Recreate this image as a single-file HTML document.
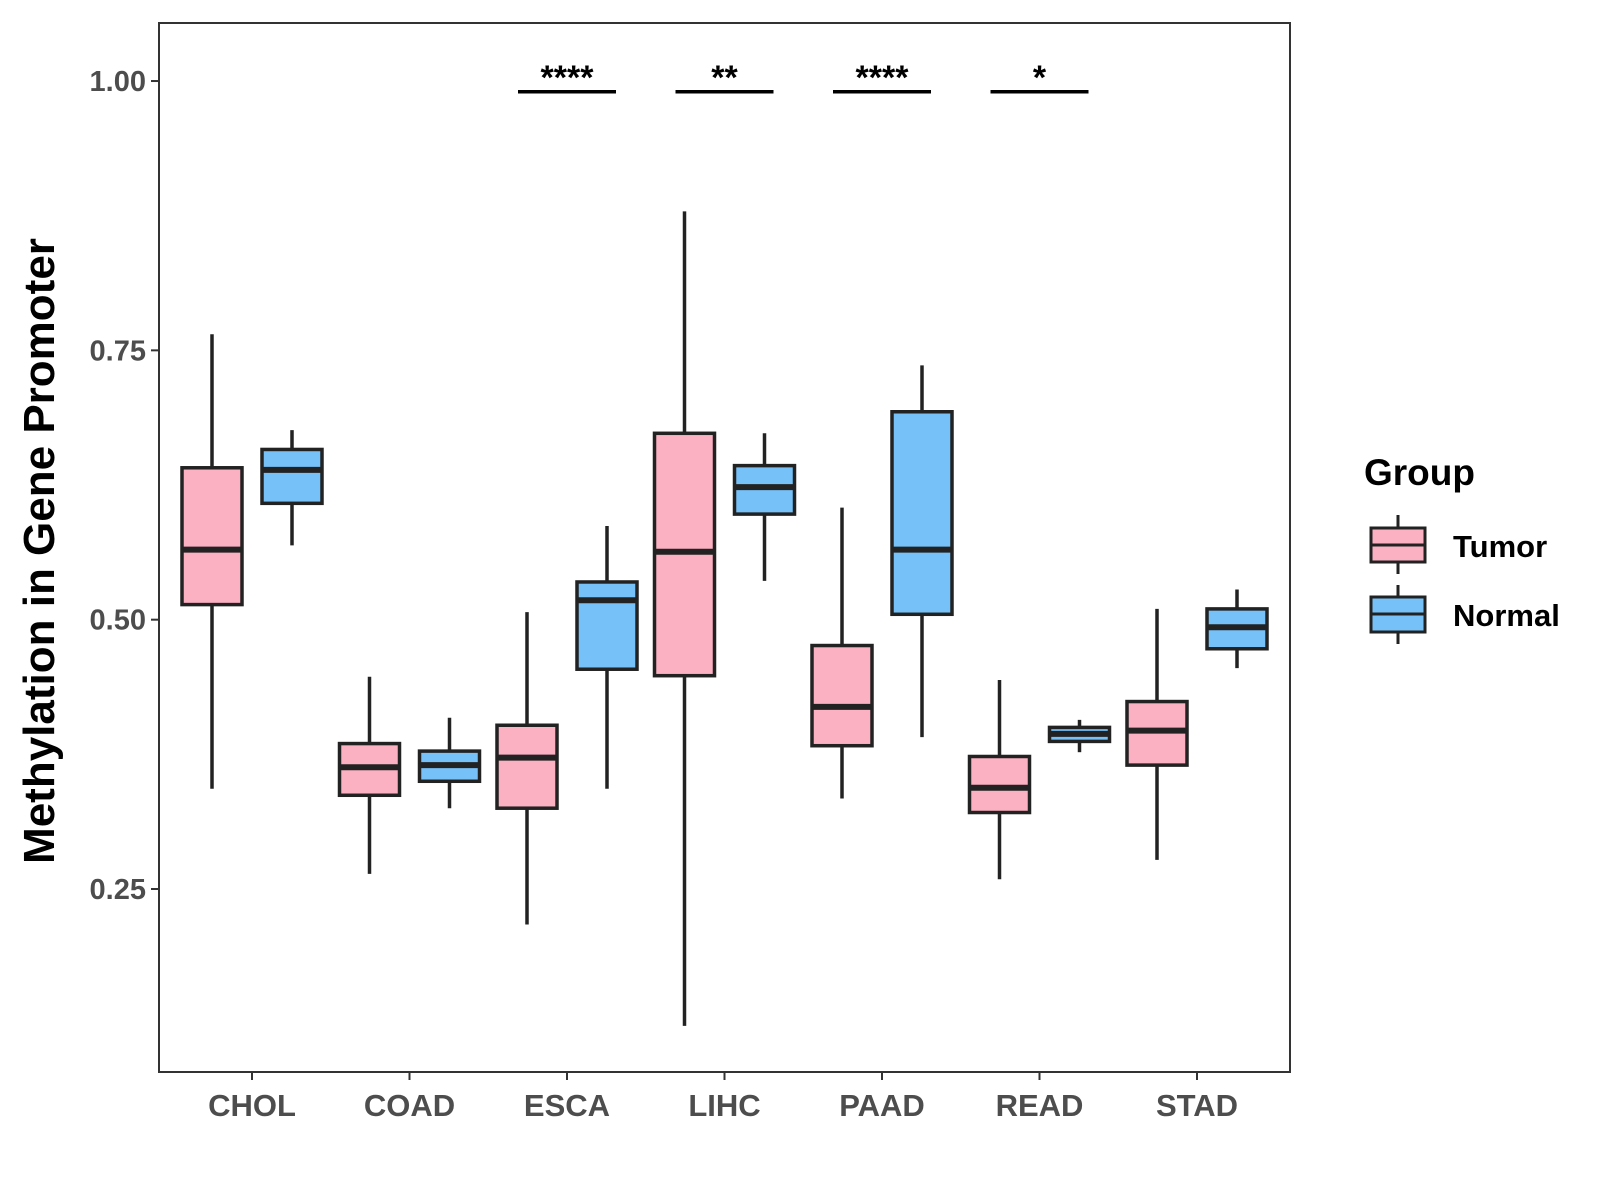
<!DOCTYPE html>
<html><head><meta charset="utf-8"><style>body{margin:0;background:#fff}svg{display:block;font-family:"Liberation Sans",Arial,sans-serif}</style></head>
<body>
<svg id="chart" width="1600" height="1200" viewBox="0 0 1600 1200">
<rect x="159" y="23" width="1131" height="1049" fill="#fff" stroke="#333" stroke-width="2"/>
<g id="marks"></g>
<text transform="translate(54,551) rotate(-90)" text-anchor="middle" font-size="44" font-weight="bold" fill="#000">Methylation in Gene Promoter</text>
<g>
<text x="1364" y="485" font-size="37" font-weight="bold">Group</text>
<g>
<line x1="1398" y1="515" x2="1398" y2="574" stroke="#222" stroke-width="3"/>
<rect x="1371" y="528" width="54" height="34" fill="#fbb1c1" stroke="#222" stroke-width="3"/>
<line x1="1371" y1="545" x2="1425" y2="545" stroke="#222" stroke-width="3"/>
<text x="1453" y="557" font-size="31" font-weight="bold">Tumor</text></g>
<g>
<line x1="1398" y1="585" x2="1398" y2="644" stroke="#222" stroke-width="3"/>
<rect x="1371" y="597" width="54" height="35" fill="#76c1f8" stroke="#222" stroke-width="3"/>
<line x1="1371" y1="614" x2="1425" y2="614" stroke="#222" stroke-width="3"/>
<text x="1453" y="626" font-size="31" font-weight="bold">Normal</text></g>
</g>
</svg>
<script>
const categories=["CHOL","COAD","ESCA","LIHC","PAAD","READ","STAD"];
// [lower whisker, q1, median, q3, upper whisker]
const tumorStats=[[0.343,0.514,0.565,0.641,0.765],[0.264,0.337,0.363,0.385,0.447],[0.217,0.325,0.372,0.402,0.507],[0.123,0.448,0.563,0.673,0.879],[0.334,0.383,0.419,0.476,0.604],[0.259,0.321,0.344,0.373,0.444],[0.277,0.365,0.397,0.424,0.510]];
const normalStats=[[0.569,0.608,0.639,0.658,0.676],[0.325,0.350,0.365,0.378,0.409],[0.343,0.454,0.518,0.535,0.587],[0.536,0.598,0.623,0.643,0.673],[0.391,0.505,0.565,0.693,0.736],[0.377,0.387,0.394,0.400,0.407],[0.455,0.473,0.493,0.510,0.528]];
const yTicks=[0.25,0.50,0.75,1.00];
const yTickLabels=["0.25","0.50","0.75","1.00"];
const sigCats=["ESCA","LIHC","PAAD","READ"];
const sigLabels=["****","**","****","*"];
const sigLevel=[0.99];

const NS="http://www.w3.org/2000/svg";
const g=document.getElementById('marks');
const y=v=>889-(v-0.25)*1077.3;
const x=i=>252+i*157.5;
function mk(tag,attrs,parent){const e=document.createElementNS(NS,tag);for(const k in attrs)e.setAttribute(k,attrs[k]);(parent||g).appendChild(e);return e;}

yTicks.forEach((t,i)=>{
  const tk=mk('line',{x1:151,x2:159,y1:y(t),y2:y(t),stroke:'#333','stroke-width':2});
  
  
  const tx=mk('text',{x:146,y:y(t)+10,'text-anchor':'end','font-size':29,'font-weight':'bold',fill:'#4d4d4d'});
  tx.textContent=yTickLabels[i];
  
  
});
categories.forEach((c,i)=>{
  const tk=mk('line',{x1:x(i),x2:x(i),y1:1072,y2:1080,stroke:'#333','stroke-width':2});
  
  
  const tx=mk('text',{x:x(i),y:1116,'text-anchor':'middle','font-size':31,'font-weight':'bold',fill:'#4d4d4d'});
  tx.textContent=c;
  
  
});
function box(cx,s,fill,name){
  const gr=mk('g',{});
  
  
  mk('line',{x1:cx,x2:cx,y1:y(s[0]),y2:y(s[4]),stroke:'#222','stroke-width':3.5},gr);
  mk('rect',{x:cx-30,y:y(s[3]),width:60,height:y(s[1])-y(s[3]),fill:fill,stroke:'#222','stroke-width':3.5},gr);
  mk('line',{x1:cx-30,x2:cx+30,y1:y(s[2]),y2:y(s[2]),stroke:'#222','stroke-width':6},gr);
}
categories.forEach((c,i)=>{
  box(x(i)-40,tumorStats[i],'#fbb1c1','box-tumor-'+c.toLowerCase());
  box(x(i)+40,normalStats[i],'#76c1f8','box-normal-'+c.toLowerCase());
});
sigCats.forEach((c,j)=>{
  const i=categories.indexOf(c);
  const l=mk('line',{x1:x(i)-49,x2:x(i)+49,y1:y(sigLevel[0]),y2:y(sigLevel[0]),stroke:'#000','stroke-width':3.5});
  
  
  const t=mk('text',{x:x(i),y:y(sigLevel[0])-3,'text-anchor':'middle','font-size':34,'font-weight':'bold',fill:'#000'});
  t.textContent=sigLabels[j];
  
  
});
</script>
</body></html>
